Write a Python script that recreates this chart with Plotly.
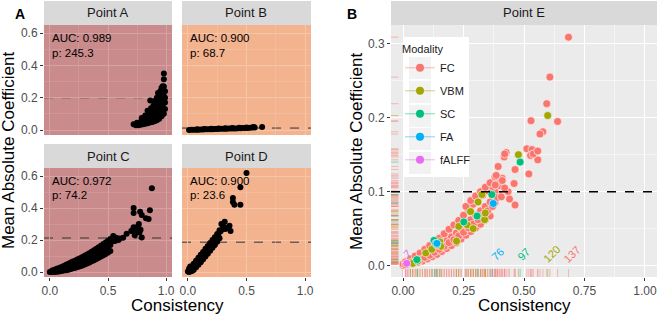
import plotly.graph_objects as go

W, H = 659, 317

# ---------------- Panel A data (four facets) ----------------
facet_names = ["Point A", "Point B", "Point C", "Point D"]
facet_auc = ["0.989", "0.900", "0.972", "0.900"]
facet_p = ["245.3", "68.7", "74.2", "23.6"]
facet_thresh = [0.200, 0.012, 0.213, 0.187]

ptA_x = [0.72, 0.74, 0.76, 0.78, 0.80, 0.82, 0.84, 0.86, 0.88, 0.90, 0.92, 0.94, 0.96, 0.98,
         0.75, 0.78, 0.80, 0.83, 0.85, 0.87, 0.89, 0.91, 0.93, 0.95, 0.97,
         0.79, 0.82, 0.85, 0.87, 0.89, 0.91, 0.93, 0.95, 0.97, 0.99,
         0.84, 0.87, 0.89, 0.91, 0.93, 0.95, 0.97, 0.99,
         0.90, 0.92, 0.94, 0.96, 0.98, 0.99,
         0.93, 0.95, 0.97, 0.99, 0.96, 0.98,
         0.97, 0.98, 0.98, 0.863]
ptA_y = [0.035, 0.030, 0.030, 0.032, 0.035, 0.038, 0.042, 0.046, 0.050, 0.055, 0.060, 0.070, 0.085, 0.100,
         0.045, 0.050, 0.058, 0.062, 0.070, 0.075, 0.080, 0.085, 0.095, 0.105, 0.115,
         0.075, 0.090, 0.100, 0.110, 0.115, 0.120, 0.130, 0.140, 0.150, 0.130,
         0.120, 0.135, 0.150, 0.160, 0.170, 0.180, 0.190, 0.170,
         0.180, 0.200, 0.210, 0.220, 0.210, 0.200,
         0.230, 0.240, 0.250, 0.240, 0.260, 0.270,
         0.271, 0.314, 0.351, 0.183]

ptB_x = [0.01, 0.03, 0.05, 0.07, 0.09, 0.11, 0.13, 0.15, 0.17, 0.19, 0.21, 0.23, 0.25, 0.27, 0.29,
         0.31, 0.33, 0.35, 0.37, 0.39, 0.41, 0.43, 0.45, 0.47, 0.49, 0.51, 0.53, 0.55, 0.57, 0.633,
         0.08, 0.14, 0.20, 0.26, 0.32, 0.38, 0.44, 0.50, 0.56]
ptB_y = [0.000, 0.001, 0.001, 0.002, 0.002, 0.003, 0.003, 0.004, 0.004, 0.005, 0.005, 0.006, 0.006, 0.007, 0.007,
         0.008, 0.008, 0.009, 0.009, 0.010, 0.010, 0.011, 0.011, 0.012, 0.013, 0.013, 0.014, 0.015, 0.016, 0.019,
         0.005, 0.006, 0.008, 0.009, 0.011, 0.012, 0.014, 0.016, 0.018]

ptC_x = [0.00, 0.02, 0.04, 0.06, 0.08, 0.10, 0.12, 0.14, 0.16, 0.18, 0.20, 0.22, 0.24, 0.26,
         0.28, 0.30, 0.32, 0.34, 0.36, 0.38, 0.40, 0.42, 0.44, 0.46, 0.48, 0.50, 0.52,
         0.02, 0.04, 0.06, 0.08, 0.10, 0.12, 0.14, 0.16, 0.18, 0.20, 0.22, 0.24, 0.26,
         0.28, 0.30, 0.32, 0.34, 0.36, 0.38, 0.40, 0.42, 0.44, 0.46, 0.48, 0.50, 0.52,
         0.02, 0.04, 0.06, 0.08, 0.10, 0.12, 0.14, 0.16, 0.18, 0.20, 0.22, 0.24, 0.26,
         0.28, 0.30, 0.32, 0.34, 0.36, 0.38, 0.40, 0.42, 0.44, 0.46, 0.48, 0.50, 0.52,
         0.53, 0.545, 0.555, 0.56, 0.57, 0.59, 0.60, 0.63, 0.66, 0.70, 0.72, 0.74, 0.76,
         0.765, 0.77, 0.78, 0.73, 0.75, 0.79, 0.72, 0.72, 0.776, 0.79, 0.86, 0.826, 0.849, 0.877]
ptC_y = [0.000, 0.004, 0.008, 0.012, 0.016, 0.020, 0.025, 0.030, 0.035, 0.040, 0.045, 0.050, 0.056, 0.062,
         0.068, 0.075, 0.082, 0.090, 0.098, 0.106, 0.114, 0.123, 0.132, 0.141, 0.150, 0.160, 0.170,
         0.000, 0.001, 0.002, 0.004, 0.006, 0.009, 0.012, 0.015, 0.019, 0.023, 0.027, 0.031, 0.036,
         0.041, 0.047, 0.053, 0.060, 0.067, 0.074, 0.081, 0.089, 0.097, 0.105, 0.113, 0.122, 0.131,
         0.010, 0.015, 0.020, 0.026, 0.032, 0.038, 0.045, 0.052, 0.059, 0.066, 0.073, 0.080, 0.087,
         0.094, 0.102, 0.110, 0.118, 0.127, 0.136, 0.145, 0.155, 0.165, 0.175, 0.185, 0.196, 0.207,
         0.190, 0.225, 0.210, 0.195, 0.215, 0.200, 0.210, 0.215, 0.240, 0.257, 0.280, 0.250, 0.290,
         0.300, 0.247, 0.265, 0.230, 0.275, 0.216, 0.400, 0.370, 0.378, 0.357, 0.387, 0.336, 0.332, 0.525]

ptD_x = [0.00, 0.02, 0.04, 0.06, 0.08, 0.10, 0.12, 0.14, 0.16, 0.18, 0.20, 0.22, 0.24, 0.26, 0.28,
         0.01, 0.03, 0.05, 0.07, 0.09, 0.11, 0.13, 0.15, 0.17, 0.19, 0.21, 0.23, 0.25, 0.27,
         0.01, 0.03, 0.05, 0.07, 0.09, 0.11, 0.13, 0.15, 0.17, 0.19, 0.21, 0.23, 0.25, 0.27,
         0.02, 0.04, 0.01,
         0.30, 0.314, 0.286, 0.342, 0.355, 0.364, 0.32, 0.30, 0.384, 0.384, 0.397, 0.448, 0.448, 0.50]
ptD_y = [0.004, 0.015, 0.032, 0.050, 0.068, 0.086, 0.104, 0.122, 0.140, 0.158, 0.176, 0.194, 0.212, 0.232, 0.255,
         0.000, 0.005, 0.015, 0.030, 0.045, 0.062, 0.080, 0.098, 0.115, 0.133, 0.152, 0.170, 0.190, 0.212,
         0.020, 0.035, 0.052, 0.070, 0.090, 0.108, 0.126, 0.145, 0.163, 0.182, 0.200, 0.218, 0.238, 0.262,
         0.035, 0.010, 0.012,
         0.289, 0.315, 0.300, 0.279, 0.289, 0.257, 0.270, 0.270, 0.464, 0.438, 0.421, 0.421, 0.530, 0.620]

facet_x = [ptA_x, ptB_x, ptC_x, ptD_x]
facet_y = [ptA_y, ptB_y, ptC_y, ptD_y]

# ---------------- Panel B data (Point E, by modality) ----------------
modalities = ["FC", "VBM", "SC", "FA", "fALFF"]
mod_colors = ["#F8766D", "#A3A500", "#00BF7D", "#00B0F6", "#E76BF3"]
mod_rgb = [(248, 118, 109), (163, 165, 0), (0, 191, 125), (0, 176, 246), (231, 107, 243)]
count_text = ["137", "120", "97", "76", "7"]
count_x = [0.700, 0.615, 0.500, 0.393, 0.016]
count_y = [0.015, 0.015, 0.015, 0.015, 0.016]
e_thresh = 0.1

fc_x = [0.00, 0.02, 0.04, 0.06, 0.08, 0.10, 0.12, 0.14, 0.16, 0.18, 0.20, 0.22, 0.24, 0.26, 0.28, 0.30, 0.32, 0.34, 0.36, 0.38, 0.40,
        0.00, 0.02, 0.04, 0.06, 0.08, 0.10, 0.12, 0.14, 0.16, 0.18, 0.20, 0.22, 0.24, 0.26, 0.28, 0.30, 0.32, 0.34, 0.36, 0.38, 0.40,
        0.01, 0.03, 0.05, 0.07, 0.09, 0.11, 0.13, 0.15, 0.17, 0.19, 0.21, 0.23, 0.25, 0.27, 0.29, 0.31, 0.33, 0.35, 0.37, 0.39, 0.41,
        0.01, 0.03, 0.05, 0.07, 0.09, 0.11, 0.13, 0.15, 0.17, 0.19, 0.21, 0.23, 0.25, 0.27, 0.29, 0.31, 0.33, 0.35, 0.37, 0.39,
        0.26, 0.28, 0.30, 0.32, 0.34, 0.36, 0.38,
        0.393, 0.385, 0.381, 0.434, 0.406, 0.463, 0.459, 0.463, 0.520, 0.557, 0.426, 0.418, 0.420, 0.512,
        0.533, 0.527, 0.538, 0.557, 0.578, 0.566, 0.529, 0.639, 0.594, 0.607, 0.684, 0.420, 0.410, 0.440]
fc_y = [0.000, 0.001, 0.002, 0.004, 0.006, 0.009, 0.012, 0.015, 0.019, 0.023, 0.027, 0.031, 0.036, 0.041, 0.046, 0.051, 0.056, 0.062, 0.067, 0.085, 0.095,
        0.002, 0.004, 0.006, 0.009, 0.012, 0.016, 0.020, 0.024, 0.029, 0.034, 0.039, 0.044, 0.050, 0.056, 0.062, 0.068, 0.074, 0.080, 0.086, 0.100, 0.108,
        0.005, 0.009, 0.013, 0.017, 0.022, 0.027, 0.032, 0.037, 0.043, 0.049, 0.055, 0.061, 0.068, 0.076, 0.083, 0.090, 0.095, 0.101, 0.107, 0.113, 0.118,
        0.001, 0.003, 0.005, 0.008, 0.011, 0.014, 0.018, 0.022, 0.026, 0.031, 0.035, 0.040, 0.045, 0.051, 0.056, 0.062, 0.068, 0.074, 0.080, 0.092,
        0.080, 0.088, 0.094, 0.100, 0.106, 0.112, 0.120,
        0.134, 0.122, 0.109, 0.100, 0.093, 0.082, 0.111, 0.130, 0.124, 0.143, 0.153, 0.147, 0.151, 0.158,
        0.157, 0.149, 0.151, 0.155, 0.181, 0.178, 0.196, 0.195, 0.219, 0.255, 0.309, 0.105, 0.115, 0.090]
vbm_x = [0.030, 0.040, 0.060, 0.094, 0.119, 0.152, 0.156, 0.140, 0.221, 0.230, 0.265, 0.290,
         0.279, 0.310, 0.326, 0.337, 0.340, 0.477, 0.598]
vbm_y = [0.004, 0.003, 0.006, 0.017, 0.022, 0.032, 0.026, 0.028, 0.033, 0.053, 0.055, 0.050,
         0.073, 0.086, 0.096, 0.062, 0.071, 0.150, 0.203]
sc_x = [0.057, 0.128, 0.135, 0.251, 0.306, 0.367, 0.484]
sc_y = [0.008, 0.034, 0.030, 0.059, 0.067, 0.096, 0.140]
fa_x = [0.140, 0.373]
fa_y = [0.030, 0.084]
falff_x = [0.015]
falff_y = [0.003]

mod_x = [fc_x, vbm_x, sc_x, fa_x, falff_x]
mod_y = [fc_y, vbm_y, sc_y, fa_y, falff_y]

# ---------------- layout helpers ----------------
def fx(p):
    return p / W


def fy(p):
    return 1 - p / H


FONT = "Liberation Sans, Arial, sans-serif"
TICK_FONT = dict(family=FONT, size=12, color="#4d4d4d")

# panel pixel boxes: (left, right, top, bottom)
boxes = {
    "A": (44, 172, 25, 135),
    "B": (182, 311, 25, 135),
    "C": (44, 172, 168, 277),
    "D": (182, 311, 168, 277),
    "E": (391, 657, 25, 277),
}
facet_keys = ["A", "B", "C", "D"]
bg_col = {"A": "#c98b8c", "B": "#f3b38f", "C": "#c98b8c", "D": "#f3b38f"}
grid_col = {"A": "#d6a3a4", "B": "#f7c6a8", "C": "#d6a3a4", "D": "#f7c6a8"}

fig = go.Figure()
layout = dict(width=W, height=H, margin=dict(l=0, r=0, t=0, b=0, autoexpand=False),
              paper_bgcolor="white", plot_bgcolor="#ebebeb",
              font=dict(family=FONT, color="#1a1a1a"), showlegend=True)
shapes = []
annotations = []


def note(text, x, y, size, color="black", angle=0, xref="paper", yref="paper", xanchor="center"):
    annotations.append(dict(text=text, xref=xref, yref=yref, x=x, y=y, textangle=angle,
                            xanchor=xanchor, yanchor="middle", showarrow=False,
                            font=dict(size=size, color=color)))


for i, k in enumerate(facet_keys):
    n = i + 1
    xa = "xaxis" if n == 1 else f"xaxis{n}"
    ya = "yaxis" if n == 1 else f"yaxis{n}"
    xr = "x" if n == 1 else f"x{n}"
    yr = "y" if n == 1 else f"y{n}"
    l, r, t, b = boxes[k]
    bottom_row = k in ("C", "D")
    left_col = k in ("A", "C")
    layout[xa] = dict(domain=[fx(l), fx(r)], anchor=yr, range=[-0.05, 1.05],
                      tickvals=[0, 0.5, 1.0], ticktext=["0.0", "0.5", "1.0"],
                      showticklabels=bottom_row, ticks="outside" if bottom_row else "",
                      ticklen=3, tickcolor="#333333", tickfont=TICK_FONT,
                      showgrid=True, gridcolor=grid_col[k], gridwidth=1,
                      minor=dict(tickvals=[0.25, 0.75], showgrid=True, gridcolor=grid_col[k], gridwidth=0.5),
                      zeroline=False, showline=False, fixedrange=True)
    layout[ya] = dict(domain=[fy(b), fy(t)], anchor=xr, range=[-0.031, 0.651],
                      tickvals=[0, 0.2, 0.4, 0.6], ticktext=["0.0", "0.2", "0.4", "0.6"],
                      showticklabels=left_col, ticks="outside" if left_col else "",
                      ticklen=3, tickcolor="#333333", tickfont=TICK_FONT,
                      showgrid=True, gridcolor=grid_col[k], gridwidth=1,
                      minor=dict(tickvals=[0.1, 0.3, 0.5], showgrid=True, gridcolor=grid_col[k], gridwidth=0.5),
                      zeroline=False, showline=False, fixedrange=True)
    shapes.append(dict(type="rect", xref=f"{xr} domain", yref=f"{yr} domain", x0=0, x1=1, y0=0, y1=1,
                       fillcolor=bg_col[k], line=dict(width=0), layer="below"))
    shapes.append(dict(type="line", xref=f"{xr} domain", yref=yr, x0=0, x1=1,
                       y0=facet_thresh[i], y1=facet_thresh[i],
                       line=dict(color="#333333", width=1, dash="dash"), layer="below"))
    shapes.append(dict(type="rect", xref="paper", yref="paper", x0=fx(l), x1=fx(r), y0=fy(t), y1=fy(t - 24),
                       fillcolor="#d9d9d9", line=dict(width=0), layer="below"))
    note(facet_names[i], fx((l + r) / 2), fy(t - 12), 13, "#1a1a1a")
    note("AUC: " + facet_auc[i], 0.0, 0.57, 11.5, xref=xr, yref=yr, xanchor="left")
    note("p: " + facet_p[i], 0.0, 0.48, 11.5, xref=xr, yref=yr, xanchor="left")
    fig.add_trace(go.Scatter(x=facet_x[i], y=facet_y[i], mode="markers", xaxis=xr, yaxis=yr,
                             marker=dict(color="black", size=6, line=dict(width=0)),
                             showlegend=False, hoverinfo="skip"))

# panel E axes
l, r, t, b = boxes["E"]
layout["xaxis5"] = dict(domain=[fx(l), fx(r)], anchor="y5", range=[-0.05, 1.05],
                        tickvals=[0, 0.25, 0.5, 0.75, 1.0], ticktext=["0.00", "0.25", "0.50", "0.75", "1.00"],
                        ticks="outside", ticklen=3, tickcolor="#333333", tickfont=TICK_FONT,
                        showgrid=True, gridcolor="white", gridwidth=1,
                        minor=dict(tickvals=[0.125, 0.375, 0.625, 0.875], showgrid=True, gridcolor="white", gridwidth=0.5),
                        zeroline=False, showline=False, fixedrange=True)
layout["yaxis5"] = dict(domain=[fy(b), fy(t)], anchor="x5", range=[-0.0155, 0.3255],
                        tickvals=[0, 0.1, 0.2, 0.3], ticktext=["0.0", "0.1", "0.2", "0.3"],
                        ticks="outside", ticklen=3, tickcolor="#333333", tickfont=TICK_FONT,
                        showgrid=True, gridcolor="white", gridwidth=1,
                        minor=dict(tickvals=[0.05, 0.15, 0.25], showgrid=True, gridcolor="white", gridwidth=0.5),
                        zeroline=False, showline=False, fixedrange=True)
shapes.append(dict(type="rect", xref="paper", yref="paper", x0=fx(l), x1=fx(r), y0=fy(t), y1=fy(t - 24),
                   fillcolor="#d9d9d9", line=dict(width=0), layer="below"))
note("Point E", fx((l + r) / 2), fy(t - 12), 13, "#1a1a1a")

# rugs
for m in range(len(modalities)):
    rr, gg, bb = mod_rgb[m]
    rc = f"rgba({rr},{gg},{bb},0.45)"
    for xv in mod_x[m]:
        shapes.append(dict(type="line", xref="x5", yref="y5 domain", x0=xv, x1=xv, y0=0, y1=0.032,
                           line=dict(color=rc, width=1), layer="below"))
    for yv in mod_y[m]:
        shapes.append(dict(type="line", xref="x5 domain", yref="y5", x0=0, x1=0.028, y0=yv, y1=yv,
                           line=dict(color=rc, width=1), layer="below"))

# points E
for m in range(len(modalities)):
    fig.add_trace(go.Scatter(x=mod_x[m], y=mod_y[m], mode="markers", xaxis="x5", yaxis="y5",
                             marker=dict(color=mod_colors[m], size=8, line=dict(color="white", width=0.6)),
                             showlegend=False, hoverinfo="skip"))
    note(count_text[m], count_x[m], count_y[m], 11, mod_colors[m], angle=-45, xref="x5", yref="y5")

shapes.append(dict(type="line", xref="x5 domain", yref="y5", x0=0, x1=1, y0=e_thresh, y1=e_thresh,
                   line=dict(color="black", width=1.5, dash="dash"), layer="above"))

# legend box + key squares
shapes.append(dict(type="rect", xref="paper", yref="paper", x0=fx(403), x1=fx(469), y0=fy(177), y1=fy(37),
                   fillcolor="white", line=dict(width=0), layer="above"))
key_centers = [68, 92, 116, 139, 163]
for c in key_centers:
    shapes.append(dict(type="rect", xref="paper", yref="paper", x0=fx(409), x1=fx(431), y0=fy(c + 11), y1=fy(c - 11),
                       fillcolor="#f2f2f2", line=dict(width=0), layer="above"))

for m in range(len(modalities)):
    rr, gg, bb = mod_rgb[m]
    fig.add_trace(go.Scatter(x=[None], y=[None], mode="lines+markers", name=modalities[m],
                             xaxis="x5", yaxis="y5", legendgroup=modalities[m],
                             marker=dict(color=mod_colors[m], size=8),
                             line=dict(color=f"rgba({rr},{gg},{bb},0.5)", width=1)))

layout["legend"] = dict(x=fx(400), y=fy(39), xanchor="left", yanchor="top", bgcolor="rgba(0,0,0,0)",
                        title=dict(text="Modality", font=dict(size=11, color="#1a1a1a")),
                        font=dict(size=11, color="#1a1a1a"), tracegroupgap=4, itemwidth=30)

# titles and panel letters
note("Consistency", fx(177), fy(305), 17)
note("Consistency", fx(524), fy(305), 17)
note("Mean Absolute Coefficient", fx(9), fy(151), 17, angle=-90)
note("Mean Absolute Coefficient", fx(357), fy(151), 17, angle=-90)
note("<b>A</b>", fx(20), fy(14), 14)
note("<b>B</b>", fx(352), fy(14), 14)

layout["shapes"] = shapes
layout["annotations"] = annotations
fig.update_layout(**layout)
fig.write_html("out.html", config={"displayModeBar": False, "staticPlot": True},
               post_script="document.body.style.margin='0px';document.body.style.overflow='hidden';")
